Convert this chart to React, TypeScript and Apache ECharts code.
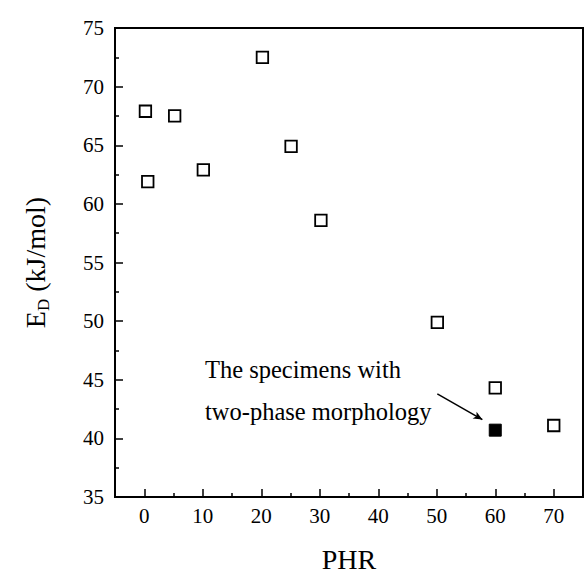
import React, { useEffect, useRef } from "react";
import * as echarts from "echarts";

const phr = [0.2, 0.6, 5.2, 10.1, 20.2, 25.1, 30.2, 50.1, 60, 70];
const ed = [67.9, 61.9, 67.5, 62.9, 72.5, 64.9, 58.6, 49.9, 44.3, 41.1];
const twoPhasePhr = [60];
const twoPhaseEd = [40.7];
const xMajorTicks = [0, 10, 20, 30, 40, 50, 60, 70];
const xMinorTicks = [5, 15, 25, 35, 45, 55, 65];
const arrowFrom = [50.1, 43.8];
const arrowTo = [57.8, 41.6];
const noteLines = ["The specimens with", "two-phase morphology"];

const FONT = "'Liberation Serif', 'Times New Roman', serif";

export default function App() {
  const ref = useRef<HTMLDivElement>(null);
  useEffect(() => {
    if (!ref.current) return;
    const chart = echarts.init(ref.current, null, { renderer: "svg" });
    const grid = { left: 115, right: 1, top: 28, bottom: 77 };
    const option: any = {
      animation: false,
      backgroundColor: "#ffffff",
      grid: {
        ...grid,
        show: true,
        borderColor: "#000",
        borderWidth: 2,
        backgroundColor: "transparent",
        containLabel: false,
        outerBoundsMode: "none",
      },
      xAxis: [
        {
          type: "value",
          min: -5,
          max: 75,
          position: "bottom",
          name: "PHR",
          nameLocation: "middle",
          nameGap: 48,
          nameTextStyle: { fontFamily: FONT, fontSize: 28, color: "#000" },
          axisLine: { show: true, onZero: false, lineStyle: { color: "#000", width: 2 } },
          axisTick: {
            show: true,
            inside: true,
            length: 8,
            customValues: xMajorTicks,
            lineStyle: { color: "#000", width: 1.5 },
          },
          axisLabel: {
            customValues: xMajorTicks,
            margin: 8,
            fontFamily: FONT,
            fontSize: 21,
            color: "#000",
          },
          splitLine: { show: false },
        },
        {
          type: "value",
          min: -5,
          max: 75,
          position: "bottom",
          axisLine: { show: false, onZero: false },
          axisTick: {
            show: true,
            inside: true,
            length: 4,
            customValues: xMinorTicks,
            lineStyle: { color: "#000", width: 1.5 },
          },
          axisLabel: { show: false },
          splitLine: { show: false },
        },
      ],
      yAxis: {
        type: "value",
        min: 35,
        max: 75,
        interval: 5,
        name: "{a|E}{b|D}{a| (kJ/mol)}",
        nameLocation: "middle",
        nameGap: 66,
        nameRotate: 90,
        nameTextStyle: {
          fontFamily: FONT,
          color: "#000",
          rich: {
            a: { fontFamily: FONT, fontSize: 28, color: "#000", verticalAlign: "top", lineHeight: 28 },
            b: { fontFamily: FONT, fontSize: 17, color: "#000", verticalAlign: "top", lineHeight: 17, padding: [14, 0, 0, 0] },
          },
        },
        axisLine: { show: true, onZero: false, lineStyle: { color: "#000", width: 2 } },
        axisTick: { show: true, inside: true, length: 8, lineStyle: { color: "#000", width: 1.5 } },
        minorTick: { show: true, splitNumber: 2, length: 4, lineStyle: { color: "#000", width: 1.5 } },
        axisLabel: { margin: 11, padding: [0, 0, 5, 0], fontFamily: FONT, fontSize: 21, color: "#000" },
        splitLine: { show: false },
        minorSplitLine: { show: false },
      },
      series: [
        {
          type: "scatter",
          xAxisIndex: 0,
          data: phr.map((x, i) => [x, ed[i]]),
          symbol: "rect",
          symbolSize: 11.5,
          itemStyle: { color: "#fff", borderColor: "#000", borderWidth: 1.8, opacity: 1 },
          z: 3,
        },
        {
          type: "scatter",
          xAxisIndex: 0,
          data: twoPhasePhr.map((x, i) => [x, twoPhaseEd[i]]),
          symbol: "rect",
          symbolSize: 12,
          itemStyle: { color: "#000", borderColor: "#000", borderWidth: 1, opacity: 1 },
          z: 3,
          markLine: {
            silent: true,
            symbol: ["none", "arrow"],
            symbolSize: [6, 9],
            label: { show: false },
            lineStyle: { color: "#000", width: 1.5, type: "solid" },
            data: [[{ coord: arrowFrom }, { coord: arrowTo }]],
          },
        },
      ],
      graphic: [
        {
          type: "text",
          left: 205,
          top: 357,
          style: { text: noteLines[0], fontFamily: FONT, fontSize: 24.5, fill: "#000" },
        },
        {
          type: "text",
          left: 205,
          top: 399,
          style: { text: noteLines[1], fontFamily: FONT, fontSize: 24.5, fill: "#000" },
        },
      ],
    };
    chart.setOption(option);
    return () => chart.dispose();
  }, []);
  return (
    <div
      ref={ref}
      style={{ position: "fixed", left: 0, top: 0, width: 584, height: 574, background: "#fff" }}
    />
  );
}
